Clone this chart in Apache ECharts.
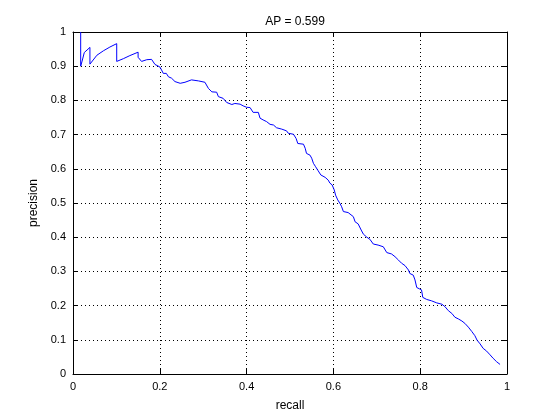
<!DOCTYPE html>
<html>
<head>
<meta charset="utf-8">
<script src="https://cdn.jsdelivr.net/npm/echarts@6/dist/echarts.min.js"></script>
<style>html,body{margin:0;padding:0;background:#fff}#c{width:560px;height:420px}</style>
</head>
<body>
<div id="c"></div>
<script>
const titleText = 'AP = 0.599';
const xLabel = 'recall';
const yLabel = 'precision';
const recall = [0.0177,0.0177,0.021,0.026,0.039,0.039,0.055,0.070,0.085,0.1007,0.1007,0.116,0.131,0.150,0.150,0.158,0.170,0.181,0.189,0.200,0.204,0.208,0.215,0.220,0.227,0.235,0.247,0.258,0.273,0.289,0.304,0.312,0.320,0.331,0.335,0.346,0.354,0.366,0.373,0.385,0.392,0.400,0.408,0.415,0.427,0.431,0.438,0.446,0.454,0.462,0.469,0.481,0.492,0.496,0.508,0.514,0.518,0.531,0.535,0.538,0.546,0.550,0.554,0.559,0.564,0.571,0.581,0.588,0.592,0.597,0.602,0.605,0.610,0.615,0.619,0.623,0.634,0.646,0.650,0.657,0.664,0.669,0.677,0.684,0.692,0.703,0.715,0.723,0.734,0.742,0.750,0.757,0.765,0.773,0.776,0.784,0.788,0.792,0.798,0.803,0.806,0.815,0.826,0.838,0.850,0.857,0.865,0.873,0.880,0.888,0.896,0.903,0.911,0.919,0.926,0.931,0.938,0.945,0.953,0.961,0.968,0.976,0.984];
const precision = [1.000,0.900,0.915,0.940,0.955,0.906,0.932,0.945,0.956,0.966,0.914,0.922,0.931,0.941,0.926,0.914,0.919,0.920,0.905,0.898,0.889,0.879,0.879,0.869,0.865,0.855,0.850,0.853,0.860,0.857,0.853,0.835,0.825,0.824,0.811,0.806,0.794,0.788,0.791,0.789,0.784,0.780,0.779,0.765,0.765,0.748,0.743,0.738,0.730,0.728,0.720,0.716,0.711,0.704,0.701,0.689,0.674,0.672,0.660,0.645,0.640,0.631,0.616,0.606,0.596,0.582,0.575,0.567,0.558,0.553,0.538,0.523,0.509,0.499,0.489,0.475,0.472,0.460,0.445,0.439,0.421,0.409,0.400,0.394,0.380,0.377,0.372,0.355,0.351,0.343,0.333,0.324,0.317,0.304,0.294,0.289,0.275,0.253,0.249,0.246,0.224,0.218,0.214,0.208,0.204,0.197,0.185,0.177,0.166,0.161,0.155,0.148,0.137,0.124,0.112,0.099,0.088,0.075,0.067,0.056,0.046,0.036,0.028];
const data = recall.map((r, i) => [r, precision[i]]);

const font = 'Liberation Sans, Arial, Helvetica, sans-serif';
const dotted = { color: '#000', width: 1, type: [1, 3] };
const chart = echarts.init(document.getElementById('c'), null, { renderer: 'canvas' });
const baseAxis = {
  type: 'value', min: 0, max: 1,
  axisLine: { show: true, onZero: false, lineStyle: { color: '#000', width: 1 } },
  axisTick: { show: true, inside: true, length: 5, lineStyle: { color: '#000' } },
  axisLabel: { color: '#000', fontFamily: font, fontSize: 11 }
};
chart.setOption({
  animation: false,
  backgroundColor: '#fff',
  title: {
    text: titleText, left: 290, top: 11, textAlign: 'center',
    textStyle: { fontFamily: font, fontSize: 12, fontWeight: 'normal', color: '#000' }
  },
  grid: { left: 73, right: 53, top: 32, bottom: 46 },
  xAxis: [
    Object.assign({}, baseAxis, {
      position: 'bottom', interval: 0.2,
      name: xLabel, nameLocation: 'middle', nameGap: 26,
      nameTextStyle: { color: '#000', fontFamily: font, fontSize: 12 },
      axisLabel: { color: '#000', fontFamily: font, fontSize: 11, margin: 7 },
      splitLine: { show: true, lineStyle: dotted }
    }),
    Object.assign({}, baseAxis, {
      position: 'top', interval: 0.2,
      axisLabel: { show: false }, splitLine: { show: false }
    })
  ],
  yAxis: [
    Object.assign({}, baseAxis, {
      position: 'left', interval: 0.1,
      name: yLabel, nameLocation: 'middle', nameGap: 30,
      nameTextStyle: { color: '#000', fontFamily: font, fontSize: 12 },
      axisLabel: { color: '#000', fontFamily: font, fontSize: 11, margin: 7 },
      splitLine: { show: true, lineStyle: dotted }
    }),
    Object.assign({}, baseAxis, {
      position: 'right', interval: 0.1,
      axisLabel: { show: false }, splitLine: { show: false }
    })
  ],
  series: [{
    type: 'line', data: data, showSymbol: false, symbol: 'none',
    xAxisIndex: 0, yAxisIndex: 0,
    lineStyle: { color: '#0000ff', width: 1 },
    clip: false
  }]
});
</script>
</body>
</html>
